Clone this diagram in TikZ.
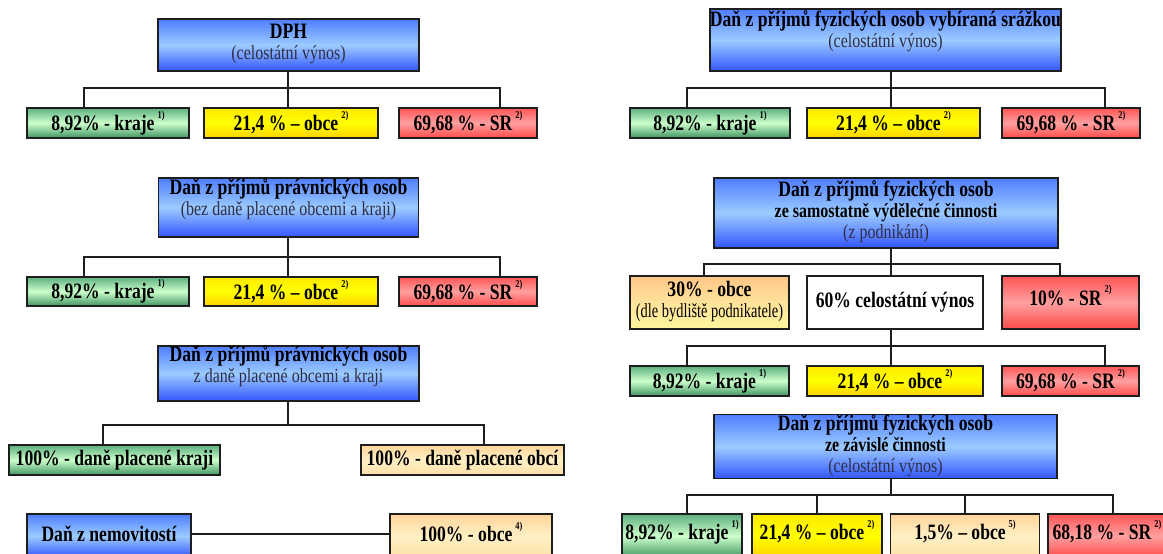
\documentclass[tikz,border=0pt]{standalone}
\usepackage{fontspec}
\setmainfont{Liberation Serif}[FakeStretch=0.8]
\newfontfamily\narrowfont{Liberation Serif}[FakeStretch=0.72]
\definecolor{bT}{HTML}{4F7DFF}
\definecolor{bM}{HTML}{9CCBFF}
\definecolor{bB}{HTML}{3355FF}
\definecolor{gT}{HTML}{5DAE7E}
\definecolor{gM}{HTML}{CCFFCC}
\definecolor{gB}{HTML}{3F9462}
\definecolor{yT}{HTML}{FFEA00}
\definecolor{yM}{HTML}{FFFF00}
\definecolor{yB}{HTML}{FFD200}
\definecolor{rT}{HTML}{FF5555}
\definecolor{rM}{HTML}{FFA0A0}
\definecolor{rB}{HTML}{FF4A4A}
\definecolor{pT}{HTML}{FFD49A}
\definecolor{pM}{HTML}{FFF0C4}
\definecolor{pB}{HTML}{FFE0A8}
\definecolor{oT}{HTML}{FFC587}
\definecolor{oM}{HTML}{FFE39A}
\definecolor{oB}{HTML}{FFF59E}
\definecolor{subc}{HTML}{2E2E44}
\definecolor{edge}{HTML}{1E1E1E}
\newcommand{\lines}[1]{\begin{tabular}{@{}c@{}}#1\end{tabular}}
\newcommand{\subt}[1]{{\mdseries\fontsize{20}{21}\selectfont\color{subc}#1}}
\newcommand{\midt}[1]{{\fontsize{20}{21}\selectfont #1}}
\newcommand{\sups}[1]{\kern3pt\raisebox{0.55em}{\fontsize{10.5}{11}\selectfont #1}}
\newcommand{\upby}[2]{\raisebox{#1}[\height][\depth]{#2}}
\begin{document}
\begin{tikzpicture}[x=1pt,y=-1pt,
  basebox/.style={draw=edge, line width=1.5pt, inner sep=0pt,
    font=\fontsize{22}{21}\selectfont\bfseries},
  bluebox/.style={basebox, top color=bT, bottom color=bB, middle color=bM},
  greenbox/.style={basebox, top color=gT, bottom color=gB, middle color=gM},
  yellowbox/.style={basebox, top color=yT, bottom color=yB, middle color=yM},
  redbox/.style={basebox, top color=rT, bottom color=rB, middle color=rM},
  peachbox/.style={basebox, top color=pT, bottom color=pB, middle color=pM},
  orangebox/.style={basebox, top color=oT, bottom color=oB, middle color=oM},
  whitebox/.style={basebox, fill=white},
  conn/.style={draw=edge, line width=1.8pt},
  bw/.style={minimum width=#1},
  bh/.style={minimum height=#1}]
\useasboundingbox (0,0) rectangle (1163,554);

% ---------- left column ----------
\node[bluebox, bw=261pt, bh=52pt] (A) at (288.5,45)
  {\lines{DPH\\ \subt{(celostátní výnos)}}};
\node[greenbox, bw=162pt, bh=30pt] (A1) at (108,123) {8,92\% - kraje\sups{1)}};
\node[yellowbox, bw=174pt, bh=30pt] (A2) at (291,123) {21,4 \% – obce\sups{2)}};
\node[redbox, bw=138pt, bh=30pt] (A3) at (468,123) {69,68 \% - SR\sups{2)}};
\coordinate (Ab) at (288,88);
\draw[conn] (Ab |- A.south) -- (Ab |- A2.north);
\draw[conn] ([xshift=-24pt]A1.north) |- (Ab) -| ([xshift=32pt]A3.north);

\node[bluebox, bw=260pt, bh=59pt] (B) at (288.5,207.5)
  {\upby{7pt}{\lines{Daň z příjmů právnických osob\\ \subt{(bez daně placené obcemi a kraji)}}}};
\node[greenbox, bw=162pt, bh=29pt] (B1) at (108,291.5) {8,92\% - kraje\sups{1)}};
\node[yellowbox, bw=174pt, bh=29pt] (B2) at (291,291.5) {21,4 \% – obce\sups{2)}};
\node[redbox, bw=138pt, bh=29pt] (B3) at (468,291.5) {69,68 \% - SR\sups{2)}};
\coordinate (Bb) at (288,257);
\draw[conn] (Bb |- B.south) -- (Bb |- B2.north);
\draw[conn] ([xshift=-24pt]B1.north) |- (Bb) -| ([xshift=32pt]B3.north);

\node[bluebox, bw=261pt, bh=55pt] (C) at (288.5,373.5)
  {\upby{6pt}{\lines{Daň z příjmů právnických osob\\ \subt{z daně placené obcemi a kraji}}}};
\node[greenbox, bw=211pt, bh=30pt] (C1) at (114.5,460) {100\% - daně placené kraji};
\node[peachbox, bw=203pt, bh=30pt] (C2) at (462.5,460) {100\% - daně placené obcí};
\coordinate (Cb) at (288,425);
\draw[conn] (Cb |- C.south) -- (Cb);
\draw[conn] ([xshift=-11.5pt]C1.north) |- (Cb) -| ([xshift=21.5pt]C2.north);

\node[bluebox, bw=164pt, bh=44pt] (D) at (109,536) {\upby{2pt}{Daň z nemovitostí}};
\node[peachbox, bw=162pt, bh=44pt] (D2) at (471,536) {\upby{4pt}{100\% - obce\sups{4)}}};
\draw[conn] ([yshift=2pt]D.east) -- ([yshift=2pt]D2.west);

% ---------- right column ----------
\node[bluebox, bw=343pt, bh=62pt] (E) at (885.5,40)
  {\upby{8pt}{\lines{Daň z příjmů fyzických osob vybíraná srážkou\\ \subt{(celostátní výnos)}}}};
\node[greenbox, bw=160pt, bh=30pt] (E1) at (710,123) {8,92\% - kraje\sups{1)}};
\node[yellowbox, bw=173pt, bh=30pt] (E2) at (893.5,123) {21,4 \% – obce\sups{2)}};
\node[redbox, bw=138pt, bh=30pt] (E3) at (1071,123) {69,68 \% - SR\sups{2)}};
\coordinate (Eb) at (891,88);
\draw[conn] (Eb |- E.south) -- (Eb |- E2.north);
\draw[conn] ([xshift=-23pt]E1.north) |- (Eb) -| ([xshift=34pt]E3.north);

\node[bluebox, bw=344pt, bh=70pt] (F) at (886,213)
  {\lines{Daň z příjmů fyzických osob\\ \midt{ze samostatně výdělečné činnosti}\\ \subt{(z podnikání)}}};
\node[orangebox, bw=159pt, bh=53pt] (F1) at (709.5,302.5)
  {\lines{30\% - obce\\ {\mdseries\narrowfont\fontsize{20}{21}\selectfont (dle bydliště podnikatele)}}};
\node[whitebox, bw=176pt, bh=53pt] (F2) at (895,302.5) {60\% celostátní výnos};
\node[redbox, bw=137pt, bh=53pt] (F3) at (1070.5,302.5) {\upby{7pt}{10\% - SR\sups{2)}}};
\coordinate (Fb) at (891,264);
\draw[conn] (Fb |- F.south) -- (Fb |- F2.north);
\draw[conn] ([xshift=-5.5pt]F1.north) |- (Fb) -| ([xshift=-10.5pt]F3.north);

\node[greenbox, bw=159pt, bh=30pt] (G1) at (709.5,381) {8,92\% - kraje\sups{1)}};
\node[yellowbox, bw=176pt, bh=30pt] (G2) at (895,381) {21,4 \% – obce\sups{2)}};
\node[redbox, bw=137pt, bh=30pt] (G3) at (1070.5,381) {69,68 \% - SR\sups{2)}};
\coordinate (Gb) at (891,346);
\draw[conn] (Gb |- F2.south) -- (Gb |- G2.north);
\draw[conn] ([xshift=-22.5pt]G1.north) |- (Gb) -| ([xshift=34.5pt]G3.north);

\node[bluebox, bw=343pt, bh=63pt] (H) at (885.5,446.5)
  {\lines{Daň z příjmů fyzických osob\\ \midt{ze závislé činnosti}\\ \subt{(celostátní výnos)}}};
\node[greenbox, bw=120pt, bh=44pt] (H1) at (682,536) {\upby{4pt}{8,92\% - kraje\sups{1)}}};
\node[yellowbox, bw=130pt, bh=44pt] (H2) at (817,536) {\upby{4pt}{21,4 \% – obce\sups{2)}}};
\node[peachbox, bw=149pt, bh=44pt] (H3) at (965,536) {\upby{4pt}{1,5\% – obce\sups{5)}}};
\node[redbox, bw=118pt, bh=44pt] (H4) at (1107,536) {\upby{4pt}{68,18 \% - SR\sups{2)}}};
\coordinate (Hb) at (891,495);
\draw[conn] (Hb |- H.south) -- (Hb);
\draw[conn] ([xshift=5pt]H1.north) |- (Hb) -| ([xshift=6pt]H4.north);
\draw[conn] (H2.north) -- (H2.north |- Hb);
\draw[conn] (H3.north) -- (H3.north |- Hb);
\end{tikzpicture}
\end{document}
